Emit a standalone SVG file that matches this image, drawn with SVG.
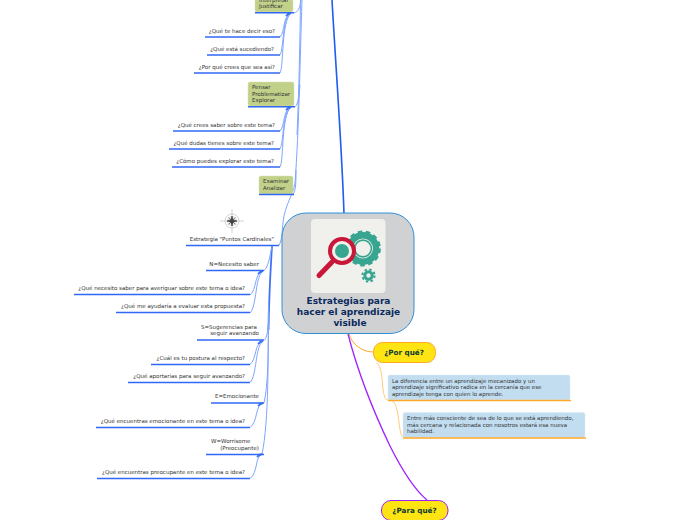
<svg xmlns="http://www.w3.org/2000/svg" width="696" height="520" viewBox="0 0 696 520">
<style>
text{font-family:"DejaVu Sans",Verdana,sans-serif;font-size:5.5px;fill:#333}
.r{text-anchor:end}
.u{fill:none;stroke:#2f68f5;stroke-width:1.6}
.uo{fill:none;stroke:#ffa726;stroke-width:1.6}
.c{fill:none;stroke:#7fa5ff;stroke-width:1}
.t{fill:none;stroke:#3f74f7;stroke-width:1.8}
.g{fill:#c1d18a;stroke:#d6e0b0;stroke-width:.5}
.b{fill:#c2ddf0;stroke:#d8e8f5;stroke-width:.5}
.h{font-weight:bold;font-size:7.2px;fill:#0b3b2e;text-anchor:middle}
.m{font-weight:bold;font-size:9px;fill:#0a2a5c;text-anchor:middle}
</style>
<rect width="696" height="520" fill="#fff"/>
<g id="connectors">
<path d="M332 0C336 70 342 150 344 214" fill="none" stroke="#1f5cf0" stroke-width="1.6"/>
<path d="M302 0C300 60 299 130 295 183C293 195 285 205 283 222C282 232 282 240 279 245.500" class="c" stroke-width="1.300"/>
<path d="M300.500 0C300 40 299 90 297 135" class="c" stroke-width="1.500"/>
<path d="M301 0C300 8 298 12 294 13" class="c"/>
<path d="M300 85C299 98 298 104 295 106.700" class="c"/>
<path d="M296 170C296 182 296 190 293 194.500" class="c"/>
<path d="M291 13C283 15 285 32 280 37M291 13C282 18 284 48 280 55M291 13C281 22 284 66 280 73" class="c"/>
<path d="M291 107C283 109 285 126 280 131M291 107C282 112 284 142 280 149M291 107C281 116 284 160 280 167" class="c"/>
<path d="M291 13Q288 13.500 286 16M291 107Q288 107.500 286 110" class="t" stroke-width="1.200"/>
<path d="M272 246C271 262 269 295 268.500 330" class="t"/>
<path d="M268.500 330C268 360 268 385 264 403" class="c" stroke-width="1.300"/>
<path d="M268.500 300C268 360 269 420 262 454.500" class="c" stroke-width="1.300"/>
<path d="M272 246C270 256 268 268 264 270.500" class="c"/>
<path d="M268 325C268 333 266 339 264 340.500" class="c"/>
<path d="M263 271C254 273 257 290 250 295M263 271C255 276 257 306 250 313" class="c"/>
<path d="M263 341C254 343 257 359 250 364.500M263 341C255 346 257 376 250 382.500" class="c"/>
<path d="M263 403C255 405 258 422 250 427.500" class="c"/>
<path d="M262 454C255 456 258 473 250 478.500" class="c"/>
<path d="M263 271Q260 271.500 258 274M263 341Q260 341.500 258 344M263 403Q260 403.500 258 406M262 454Q259 454.500 257 457" class="t" stroke-width="1.200"/>
<path d="M349 334C352 344 362 352 373 352" fill="none" stroke="#ffa726" stroke-width="1"/>
<path d="M377 363C385 370 380 399 388 400" fill="none" stroke="#ffc877" stroke-width="1"/>
<path d="M392 401C400 404 398 435 403 437" fill="none" stroke="#ffc877" stroke-width="1"/>
<path d="M348 334C356 365 368 400 390 446C402 470 415 490 427 500" fill="none" stroke="#a020ff" stroke-width="1.300"/>
</g>
<g id="n-interpretar">
<path d="M255 0H293V10Q293 12 291 12H257Q255 12 255 10Z" class="g"/>
<text x="259" y="2">Interpretar</text><text x="259" y="8">Justificar</text>
<path class="u" d="M255 12.700H294"/>
</g>
<g id="n-q1"><text class="r" x="275" y="33">¿Qué te hace decir eso?</text><path class="u" d="M205 37H280"/></g>
<g id="n-q2"><text class="r" x="274" y="51">¿Qué está sucediendo?</text><path class="u" d="M207 55H280"/></g>
<g id="n-q3"><text class="r" x="275" y="69">¿Por qué crees que sea así?</text><path class="u" d="M194 73H280"/></g>
<g id="n-pensar">
<rect x="248" y="82" width="46" height="24" rx="2" class="g"/>
<text x="252" y="89">Pensar</text><text x="252" y="96">Problematizar</text><text x="252" y="102">Explorar</text>
<path class="u" d="M248 106.700H295"/>
</g>
<g id="n-q4"><text class="r" x="275" y="127">¿Qué crees saber sobre este tema?</text><path class="u" d="M173 131H280"/></g>
<g id="n-q5"><text class="r" x="274" y="145">¿Qué dudas tienes sobre este tema?</text><path class="u" d="M169 149H280"/></g>
<g id="n-q6"><text class="r" x="274" y="163">¿Cómo puedes explorar este tema?</text><path class="u" d="M172 167H280"/></g>
<g id="n-examinar">
<rect x="259" y="176" width="34" height="18" rx="2" class="g"/>
<text x="263" y="183">Examinar</text><text x="263" y="190">Analizar</text>
<path class="u" d="M259 194.500H294"/>
</g>
<g id="n-puntos">
<g stroke="#b5b5b5" stroke-width=".6" fill="none"><circle cx="232" cy="221" r="7"/><circle cx="232" cy="221" r="4.500"/><path d="M232 209V233M220 221H244"/></g>
<path d="M232 216L233.300 219.700L237 221L233.300 222.300L232 226L230.700 222.300L227 221L230.700 219.700ZM228.500 217.500L235.500 224.500M235.500 217.500L228.500 224.500" fill="#444" stroke="#444" stroke-width=".6"/>
<text class="r" x="274" y="241">Estrategia "Puntos Cardinales"</text><path class="u" d="M186 245.500H279"/>
</g>
<g id="n-n"><text class="r" x="259" y="266">N=Necesito saber</text><path class="u" d="M206 270.500H264"/></g>
<g id="n-q7"><text class="r" x="245" y="290">¿Qué necesito saber para averiguar sobre este tema o idea?</text><path class="u" d="M74 294.500H250"/></g>
<g id="n-q8"><text class="r" x="245" y="308">¿Qué me ayudaría a evaluar esta propuesta?</text><path class="u" d="M116 312.500H250"/></g>
<g id="n-s"><text x="201" y="329">S=Sugerencias para</text><text class="r" x="259" y="335">seguir avanzando</text><path class="u" d="M197 340H264"/></g>
<g id="n-q9"><text class="r" x="245" y="360">¿Cuál es tu postura al respecto?</text><path class="u" d="M151 364.500H250"/></g>
<g id="n-q10"><text class="r" x="245" y="378">¿Qué aportarías para seguir avanzando?</text><path class="u" d="M128 382.500H250"/></g>
<g id="n-e"><text class="r" x="259" y="398">E=Emocionante</text><path class="u" d="M211 403H264"/></g>
<g id="n-q11"><text class="r" x="245" y="423">¿Qué encuentras emocionante en este tema o idea?</text><path class="u" d="M96 427.500H250"/></g>
<g id="n-w"><text x="211" y="443">W=Worrisome</text><text class="r" x="259" y="450">(Preocupante)</text><path class="u" d="M206 454.500H264"/></g>
<g id="n-q12"><text class="r" x="245" y="474">¿Qué encuentras preocupante en este tema o idea?</text><path class="u" d="M97 478.500H250"/></g>
<g id="n-central">
<rect x="282" y="213" width="132" height="120.500" rx="24" fill="#d0d1d3" stroke="#2f8fd8" stroke-width="1"/>
<rect x="311" y="219" width="74.500" height="74" rx="4" fill="#f0f0ec"/>
<g fill="none" stroke="#37a58f">
<circle cx="363" cy="248.500" r="13.200" stroke-width="6.400"/>
<circle cx="363" cy="248.500" r="16.300" stroke-width="3.200" stroke-dasharray="4.500 3.400"/>
<circle cx="363" cy="248.500" r="8.400" stroke-width="1.600"/>
<circle cx="368.500" cy="275.500" r="3.700" stroke-width="3"/>
<circle cx="368.500" cy="275.500" r="6.100" stroke-width="2" stroke-dasharray="2.400 2.400"/>
</g>
<circle cx="342" cy="251" r="11" fill="#f0f0ec"/>
<circle cx="342" cy="251" r="7" fill="#37a58f"/>
<circle cx="342" cy="251" r="12" fill="none" stroke="#c9173a" stroke-width="4"/>
<path d="M332 262L319 275.500" stroke="#c9173a" stroke-width="5" stroke-linecap="round"/>
<text class="m" x="348.500" y="304">Estrategias para</text>
<text class="m" x="348.500" y="315">hacer el aprendizaje</text>
<text class="m" x="350" y="326">visible</text>
</g>
<g id="n-porque">
<rect x="373.500" y="342.500" width="62" height="20" rx="9" fill="#ffe414" stroke="#ffa726" stroke-width="1"/>
<text class="h" x="404" y="355">¿Por qué?</text>
</g>
<g id="n-d1">
<rect x="388" y="375" width="182" height="25" rx="2" class="b"/>
<text x="392" y="383">La diferencia entre un aprendizaje mecanizado y un</text>
<text x="392" y="389">aprendizaje significativo radica en la cercanía que ese</text>
<text x="392" y="396">aprendizaje tenga con quien lo aprende.</text>
<path class="uo" d="M388 400.500H571"/>
</g>
<g id="n-d2">
<rect x="403" y="412.500" width="182" height="25" rx="2" class="b"/>
<text x="407" y="420">Entre más consciente de sea de lo que se está aprendiendo,</text>
<text x="407" y="427">más cercana y relacionada con nosotros estará esa nueva</text>
<text x="407" y="433">habilidad.</text>
<path class="uo" d="M403 438H586"/>
</g>
<g id="n-paraque">
<rect x="381.500" y="500.500" width="66.500" height="20" rx="9.500" fill="#ffe414" stroke="#a020ff" stroke-width="1"/>
<text class="h" x="414.500" y="513">¿Para qué?</text>
</g>
</svg>
